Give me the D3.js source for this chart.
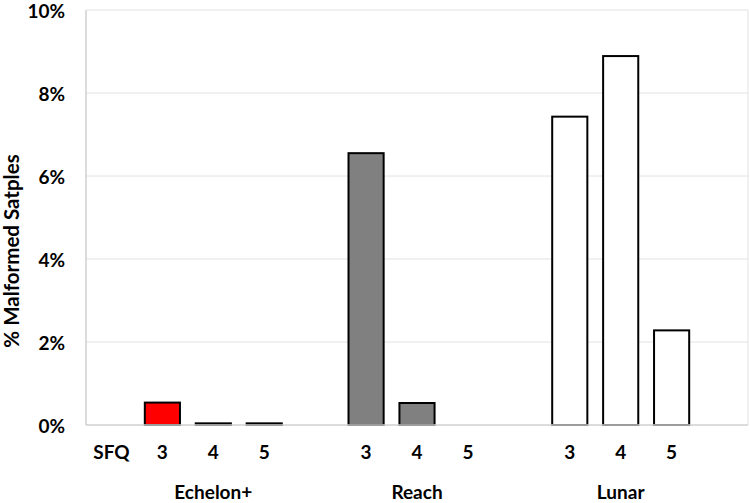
<!DOCTYPE html>
<html><head><meta charset="utf-8">
<script src="https://cdn.jsdelivr.net/npm/d3@7"></script>
<style>body{margin:0;background:#fff}svg text{font-family:Lato,"Liberation Sans",sans-serif;font-weight:bold;fill:#000}</style>
</head><body><svg id="c" width="750" height="503"></svg>
<script>
const slots = ["SFQ","E3","E4","E5","g1","R3","R4","R5","g2","L3","L4","L5","g3"];
const slotLabels = ["SFQ","3","4","5","","3","4","5","","3","4","5",""];
const barSlots = ["E3","E4","E5","R3","R4","R5","L3","L4","L5"];
const barValues = [0.54, 0.04, 0.04, 6.55, 0.53, 0, 7.43, 8.89, 2.28];
const barColors = ["#ff0000","#000000","#000000","#808080","#808080","#808080","#ffffff","#ffffff","#ffffff"];
const groups = ["Echelon+","Reach","Lunar"];
const groupSlots = ["E4","R4","L4"];
const yTicks = [0,2,4,6,8,10];

const FS = 19;
const svg = d3.select("#c");
const m = {l:86, r:748, t:10, b:425};
const x = d3.scaleBand().domain(slots).range([m.l, m.r]).paddingInner(0.31).paddingOuter(0.155);
const y = d3.scaleLinear().domain([0,10]).range([m.b, m.t]);

// gridlines
svg.append("g").selectAll("line").data(yTicks.filter(d=>d>0)).join("line")
  .attr("x1",m.l).attr("x2",m.r).attr("y1",d=>y(d)).attr("y2",d=>y(d))
  .attr("stroke","#e2e2e2").attr("stroke-width",1);
// right border
svg.append("line").attr("x1",m.r).attr("x2",m.r).attr("y1",m.t).attr("y2",m.b).attr("stroke","#e2e2e2");
// axes lines
svg.append("line").attr("x1",m.l).attr("x2",m.l).attr("y1",m.t).attr("y2",m.b).attr("stroke","#d0d0d0").attr("stroke-width",1.5);

// bars
const bars = barSlots.map((s,i)=>({s, v:barValues[i], c:barColors[i]}));
svg.append("g").selectAll("rect").data(bars.filter(d=>d.v>0)).join("rect")
  .attr("x",d=>x(d.s)).attr("width",x.bandwidth())
  .attr("y",d=>y(d.v)).attr("height",d=>y(0)-y(d.v))
  .attr("fill",d=>d.c).attr("stroke","#000").attr("stroke-width",2);

svg.append("line").attr("x1",m.l).attr("x2",m.r).attr("y1",m.b).attr("y2",m.b).attr("stroke","#d0d0d0").attr("stroke-width",1.5);

// y axis labels
const yAxis = d3.axisLeft(y).tickValues(yTicks).tickFormat(d=>d+"%").tickSize(0).tickPadding(21);
const ya = svg.append("g").attr("transform",`translate(${m.l},1)`).call(yAxis);
ya.select(".domain").remove();
ya.selectAll("text").attr("font-size",FS).attr("font-family","Lato, sans-serif").attr("font-weight","bold").attr("fill","#000");

// x category labels
const xAxis = d3.axisBottom(x).tickFormat((d,i)=>slotLabels[i]).tickSize(0).tickPadding(21);
const xa = svg.append("g").attr("transform",`translate(0,${m.b})`).call(xAxis);
xa.select(".domain").remove();
xa.selectAll("text").attr("font-size",FS).attr("font-family","Lato, sans-serif").attr("font-weight","bold").attr("fill","#000");

// group labels
svg.append("g").selectAll("text").data(groups).join("text")
  .attr("x",(d,i)=>x(groupSlots[i])+x.bandwidth()/2).attr("y",499)
  .attr("text-anchor","middle").attr("font-size",FS).text(d=>d);

// y title
svg.append("text").attr("transform","translate(19,251) rotate(-90)")
  .attr("text-anchor","middle").attr("font-size",20.5).text("% Malformed Satples");
</script></body></html>
